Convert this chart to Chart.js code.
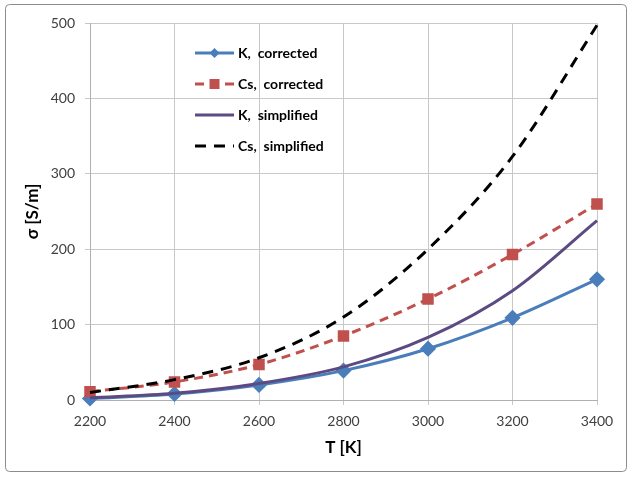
<!DOCTYPE html>
<html>
<head>
<meta charset="utf-8">
<script src="https://cdn.jsdelivr.net/npm/chart.js@4.4.0/dist/chart.umd.min.js"></script>
<style>
  html, body { margin: 0; padding: 0; background: #ffffff; }
  #wrap { width: 632px; height: 478px; position: relative; }
</style>
</head>
<body>
<div id="wrap"><canvas id="c" width="632" height="478"></canvas></div>
<script>
const temps = [2200, 2400, 2600, 2800, 3000, 3200, 3400];
const kCorrected = [2, 8, 20, 39, 68, 109, 160];
const csCorrected = [11, 24, 47, 85, 134, 193, 260];
const kSimplified = [3, 9, 22, 44, 83, 145, 238];
const csSimplified = [10, 27, 56, 110, 200, 323, 497];
const seriesNames = ['K,  corrected', 'Cs,  corrected', 'K,  simplified', 'Cs,  simplified'];
const xTitle = 'T [K]';
const yTitle = 'σ [S/m]';

const FONT = 'Lato, "Open Sans", "Liberation Sans", sans-serif';
const toPts = arr => arr.map((v, i) => ({ x: temps[i], y: v }));

const borderPlugin = {
  id: 'outerBorder',
  beforeDraw(chart) {
    const ctx = chart.ctx;
    ctx.save();
    ctx.fillStyle = '#ffffff';
    ctx.fillRect(0, 0, chart.width, chart.height);
    ctx.strokeStyle = '#8c8c8c';
    ctx.lineWidth = 1;
    ctx.beginPath();
    if (ctx.roundRect) ctx.roundRect(5.5, 4.5, 621, 467, 4); else ctx.rect(5.5, 4.5, 621, 467);
    ctx.stroke();
    ctx.restore();
  }
};

const legendPlugin = {
  id: 'innerLegend',
  afterDraw(chart) {
    const ctx = chart.ctx;
    const x0 = 195, x1 = 234, tx = 238;
    const ys = [53, 84, 115, 146];
    ctx.save();
    chart.data.datasets.forEach((ds, i) => {
      const y = ys[i];
      ctx.strokeStyle = ds.borderColor;
      ctx.lineWidth = ds.borderWidth;
      ctx.setLineDash(ds.borderDash || []);
      ctx.beginPath();
      ctx.moveTo(x0, y);
      ctx.lineTo(x1, y);
      ctx.stroke();
      ctx.setLineDash([]);
      if (ds.pointRadius > 0) {
        const mx = (x0 + x1) / 2;
        ctx.fillStyle = ds.pointBackgroundColor;
        ctx.beginPath();
        if (ds.pointStyle === 'rectRot') {
          const rr = 5;
          ctx.moveTo(mx, y - rr); ctx.lineTo(mx + rr, y); ctx.lineTo(mx, y + rr); ctx.lineTo(mx - rr, y);
          ctx.closePath();
        } else {
          const s = 5;
          ctx.rect(mx - s, y - s, 2 * s, 2 * s);
        }
        ctx.fill();
      }
      ctx.fillStyle = '#000000';
      ctx.font = 'bold 14px ' + FONT;
      ctx.textBaseline = 'middle';
      ctx.textAlign = 'left';
      ctx.fillText(ds.label, tx, y);
    });
    ctx.restore();
  }
};

new Chart(document.getElementById('c'), {
  type: 'line',
  data: {
    datasets: [
      {
        label: seriesNames[0], data: toPts(kCorrected),
        borderColor: '#4a7ebb', backgroundColor: '#4a7ebb',
        pointBackgroundColor: '#4a7ebb', pointBorderColor: '#4a7ebb',
        pointStyle: 'rectRot', pointRadius: 6, borderWidth: 3, clip: false,
        cubicInterpolationMode: 'monotone', order: 4
      },
      {
        label: seriesNames[1], data: toPts(csCorrected),
        borderColor: '#c0504d', backgroundColor: '#c0504d',
        pointBackgroundColor: '#c0504d', pointBorderColor: '#c0504d',
        pointStyle: 'rect', pointRadius: 6, borderWidth: 3, borderDash: [9, 6], clip: false,
        cubicInterpolationMode: 'monotone', order: 3
      },
      {
        label: seriesNames[2], data: toPts(kSimplified),
        borderColor: '#5c4a82', backgroundColor: '#5c4a82',
        pointBackgroundColor: '#5c4a82',
        pointRadius: 0, borderWidth: 3, clip: false,
        cubicInterpolationMode: 'monotone', order: 2
      },
      {
        label: seriesNames[3], data: toPts(csSimplified),
        borderColor: '#000000', backgroundColor: '#000000',
        pointBackgroundColor: '#000000',
        pointRadius: 0, borderWidth: 3, borderDash: [11, 8], clip: false,
        cubicInterpolationMode: 'monotone', order: 1
      }
    ]
  },
  options: {
    responsive: false,
    animation: false,
    layout: { padding: { top: 23, right: 35, left: 18, bottom: 16 } },
    plugins: { legend: { display: false }, tooltip: { enabled: false } },
    elements: { point: { hoverRadius: 0 } },
    scales: {
      x: {
        type: 'linear', min: 2200, max: 3400,
        border: { display: true, color: '#b0b0b0' },
        grid: { color: '#c8c8c8', lineWidth: 1, tickLength: 5, drawTicks: true },
        ticks: { stepSize: 200, color: '#404040', font: { family: FONT, size: 14 }, padding: 8,
                 callback: v => String(v) },
        title: { display: true, text: xTitle, color: '#000000', font: { family: FONT, size: 17, weight: 'bold' }, padding: { top: 4 } },
        afterFit(s) { s.height = 62; }
      },
      y: {
        min: 0, max: 500,
        border: { display: true, color: '#b0b0b0' },
        grid: { color: '#c8c8c8', lineWidth: 1, tickLength: 5, drawTicks: true },
        ticks: { stepSize: 100, color: '#404040', font: { family: FONT, size: 14 }, padding: 10 },
        title: { display: true, text: yTitle, color: '#000000', font: { family: FONT, size: 17, weight: 'bold' }, padding: { bottom: 6 } },
        afterFit(s) { s.width = 72; }
      }
    }
  },
  plugins: [borderPlugin, legendPlugin]
});
</script>
</body>
</html>
